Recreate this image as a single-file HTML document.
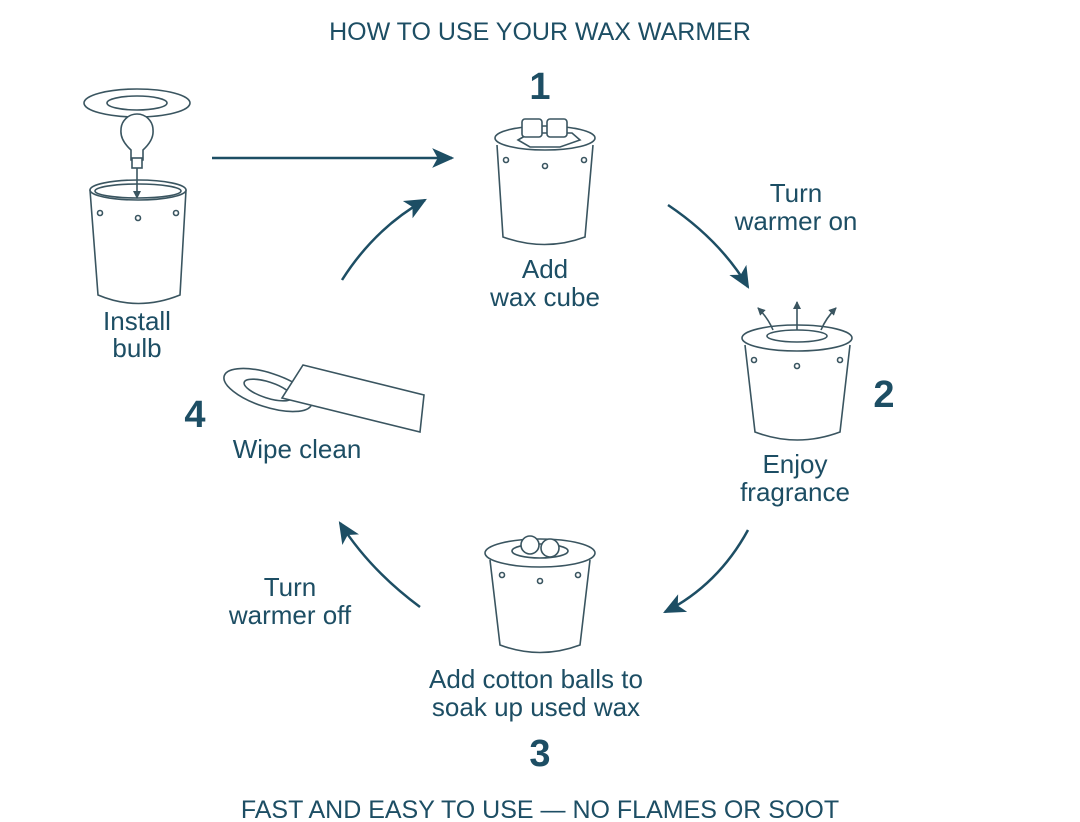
<!DOCTYPE html>
<html><head><style>body{margin:0;background:#fff}svg{display:block}</style></head><body>
<svg width="1080" height="822" viewBox="0 0 1080 822" xmlns="http://www.w3.org/2000/svg" font-family="Liberation Sans, sans-serif">
<defs>
<marker id="ah" markerWidth="22" markerHeight="22" refX="18" refY="10" orient="auto" markerUnits="userSpaceOnUse" viewBox="0 0 20 20"><path d="M0,1 L20,10 L0,19 L5,10 z" fill="#1d4e64"/></marker>
<marker id="sa" markerWidth="8" markerHeight="8" refX="7" refY="4" orient="auto" markerUnits="userSpaceOnUse" viewBox="0 0 8 8"><path d="M0,0 L8,4 L0,8 z" fill="#3a5560"/></marker>
</defs>
<rect width="1080" height="822" fill="#fff"/>
<g fill="#1d4e64" text-anchor="middle">
<text x="540" y="40" font-size="25">HOW TO USE YOUR WAX WARMER</text>
<text x="540" y="818" font-size="25">FAST AND EASY TO USE — NO FLAMES OR SOOT</text>
<text x="540" y="99" font-size="38" font-weight="bold">1</text>
<text x="884" y="407" font-size="38" font-weight="bold">2</text>
<text x="540" y="766" font-size="38" font-weight="bold">3</text>
<text x="195" y="427" font-size="38" font-weight="bold">4</text>
<g font-size="26">
<text x="137" y="330">Install</text><text x="137" y="357">bulb</text>
<text x="545" y="278">Add</text><text x="545" y="306">wax cube</text>
<text x="796" y="202">Turn</text><text x="796" y="230">warmer on</text>
<text x="795" y="473">Enjoy</text><text x="795" y="501">fragrance</text>
<text x="297" y="458">Wipe clean</text>
<text x="290" y="596">Turn</text><text x="290" y="624">warmer off</text>
<text x="536" y="688">Add cotton balls to</text><text x="536" y="716">soak up used wax</text>
</g></g>
<g fill="none" stroke="#1d4e64" stroke-width="2.5">
<line x1="212" y1="158" x2="452" y2="158" marker-end="url(#ah)"/>
<path d="M342,280 Q375,228 425,200" marker-end="url(#ah)"/>
<path d="M668,205 Q720,240 748,287" marker-end="url(#ah)"/>
<path d="M748,530 Q718,585 665,612" marker-end="url(#ah)"/>
<path d="M420,607 Q370,570 340,523" marker-end="url(#ah)"/>
</g>
<g fill="#fff" stroke="#3a5560" stroke-width="1.6">
<ellipse cx="137" cy="103" rx="53" ry="14"/><ellipse cx="137" cy="103" rx="30" ry="7"/>
<path d="M131,160 L131,150 Q120,140 121,130 A16,16 0 1 1 153,130 Q154,140 143,150 L143,160 Z"/>
<rect x="132" y="158" width="10" height="10"/>
<path d="M90,190 L98,295 Q138,312 180,295 L186,190"/>
<ellipse cx="138" cy="190" rx="48" ry="10"/><ellipse cx="138" cy="191" rx="43" ry="7"/>
<line x1="137" y1="168" x2="137" y2="198" marker-end="url(#sa)"/>
<circle cx="100" cy="213" r="2.5"/><circle cx="138" cy="218" r="2.5"/><circle cx="176" cy="213" r="2.5"/>
<path d="M497,145 L503,237 Q545,252 585,237 L593,145"/>
<ellipse cx="545" cy="138" rx="50" ry="12"/>
<path d="M518,140 L530,133 L572,133 L580,140 L560,147 L530,147 Z"/>
<rect x="522" y="119" width="20" height="18" rx="3"/><rect x="547" y="119" width="20" height="18" rx="3"/>
<circle cx="506" cy="160" r="2.5"/><circle cx="545" cy="166" r="2.5"/><circle cx="584" cy="160" r="2.5"/>
<path d="M745,345 L755,432 Q797,448 840,432 L850,345"/>
<ellipse cx="797" cy="338" rx="55" ry="13"/><ellipse cx="797" cy="336" rx="30" ry="6"/>
<circle cx="754" cy="360" r="2.5"/><circle cx="797" cy="366" r="2.5"/><circle cx="840" cy="360" r="2.5"/>
<path d="M490,560 L500,645 Q540,660 580,645 L590,560"/>
<ellipse cx="540" cy="553" rx="55" ry="14"/><ellipse cx="540" cy="551" rx="28" ry="7"/>
<circle cx="530" cy="545" r="9"/><circle cx="550" cy="548" r="9"/>
<circle cx="502" cy="575" r="2.5"/><circle cx="540" cy="581" r="2.5"/><circle cx="578" cy="575" r="2.5"/>
<ellipse cx="268" cy="390" rx="46" ry="17" transform="rotate(18 268 390)"/>
<ellipse cx="268" cy="390" rx="25" ry="8" transform="rotate(18 268 390)"/>
<path d="M303,365 L424,395 L420,432 L282,398 Z"/>
</g>
<g fill="none" stroke="#3a5560" stroke-width="1.6">
<path d="M773,330 Q768,318 758,308" marker-end="url(#sa)"/><path d="M797,330 L797,302" marker-end="url(#sa)"/><path d="M821,330 Q826,318 836,308" marker-end="url(#sa)"/>
</g>
</svg>
</body></html>
